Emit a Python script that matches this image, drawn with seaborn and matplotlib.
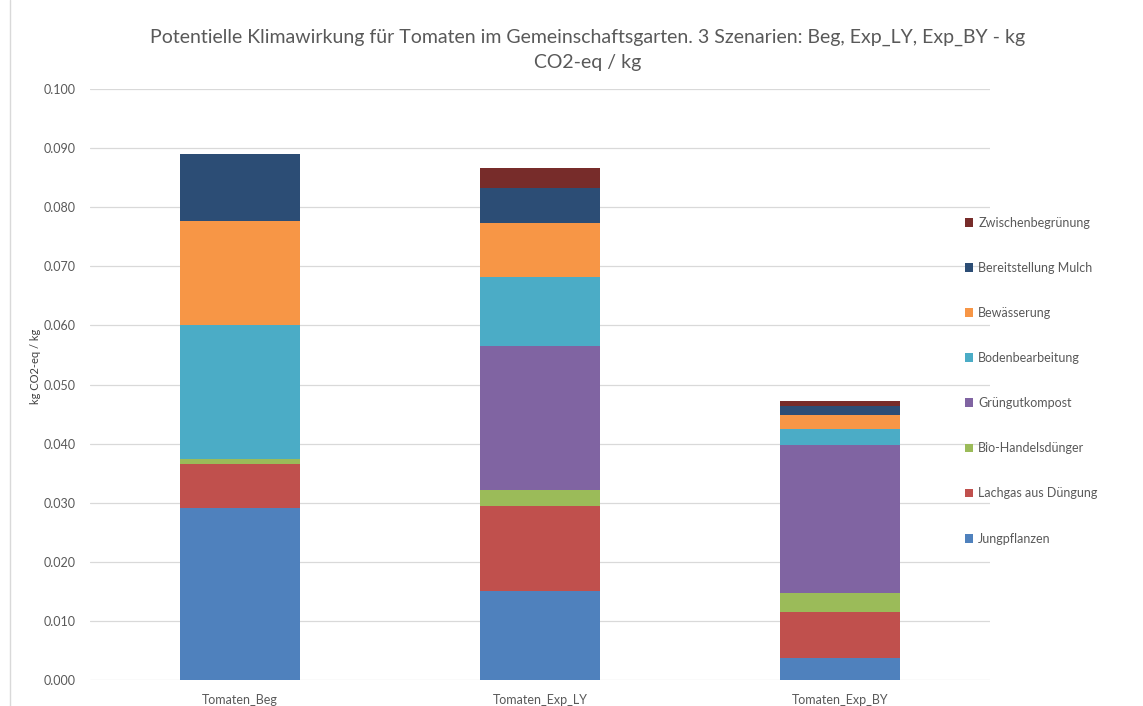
import numpy as np
import pandas as pd
import matplotlib
matplotlib.use("Agg")
import matplotlib.pyplot as plt
import seaborn as sns
from matplotlib.lines import Line2D

# Szenarien und Beiträge (kg CO2-eq / kg), von unten nach oben gestapelt
szenarien = ["Tomaten_Beg", "Tomaten_Exp_LY", "Tomaten_Exp_BY"]
komponenten = ["Jungpflanzen", "Lachgas aus Düngung", "Bio-Handelsdünger", "Grüngutkompost",
               "Bodenbearbeitung", "Bewässerung", "Bereitstellung Mulch", "Zwischenbegrünung"]
jungpflanzen = [0.0291, 0.0151, 0.0037]
lachgas = [0.0075, 0.0143, 0.0078]
bio_handelsduenger = [0.0008, 0.0027, 0.0033]
gruengutkompost = [0.0000, 0.0245, 0.0249]
bodenbearbeitung = [0.0226, 0.0116, 0.0028]
bewaesserung = [0.0176, 0.0091, 0.0023]
mulch = [0.0114, 0.0060, 0.0015]
zwischenbegruenung = [0.0000, 0.0033, 0.0009]

werte = [jungpflanzen, lachgas, bio_handelsduenger, gruengutkompost,
         bodenbearbeitung, bewaesserung, mulch, zwischenbegruenung]
farben = ["#4F81BD", "#C0504D", "#9BBB59", "#8064A2",
          "#4BACC6", "#F79646", "#2C4D75", "#772C2A"]

sns.set_style("white")
plt.rcParams["font.family"] = ["Lato", "DejaVu Sans"]

fig = plt.figure(figsize=(11.43, 7.06), dpi=100)
ax = fig.add_axes([0.0787, 0.0368, 0.7873, 0.8371])

unten = np.zeros(len(szenarien))
for name, vals, farbe in zip(komponenten, werte, farben):
    sns.barplot(x=szenarien, y=vals, order=szenarien, bottom=unten, color=farbe,
                width=0.4, linewidth=0, saturation=1, label=name, ax=ax)
    unten = unten + np.array(vals)

ax.set_ylim(0, 0.1)
ax.set_xlim(-0.5, 2.5)
ax.set_yticks(np.arange(0, 0.1001, 0.01))
ax.yaxis.set_major_formatter(matplotlib.ticker.FormatStrFormatter("%.3f"))
ax.grid(axis="y", color="#D9D9D9", linewidth=0.9)
ax.set_axisbelow(True)
for s in ax.spines.values():
    s.set_visible(False)
ax.tick_params(axis="both", length=0, labelsize=9, colors="#595959", pad=10)
ax.tick_params(axis="x", pad=10)
ax.set_ylabel("kg CO2-eq / kg", fontsize=8, color="#404040", labelpad=4)
ax.yaxis.set_label_coords(-0.054, 0.53)
ax.set_xlabel("")

fig.suptitle("Potentielle Klimawirkung für Tomaten im Gemeinschaftsgarten. 3 Szenarien: Beg, Exp_LY, Exp_BY - kg\nCO2-eq / kg",
             x=0.514, y=0.96, fontsize=14, color="#595959", linespacing=1.6)

handles, labels = ax.get_legend_handles_labels()
ax.legend(handles[::-1], labels[::-1], loc="upper left", bbox_to_anchor=(0.834, 0.709),
          bbox_transform=fig.transFigure, frameon=False, fontsize=9,
          labelspacing=2.65, handlelength=0.7, handleheight=0.7, handletextpad=0.4,
          labelcolor="#595959")

fig.add_artist(Line2D([0.009, 0.009], [0.0, 1.0], color="#D9D9D9", linewidth=1,
                      transform=fig.transFigure))

fig.savefig("out.png", dpi=100)
